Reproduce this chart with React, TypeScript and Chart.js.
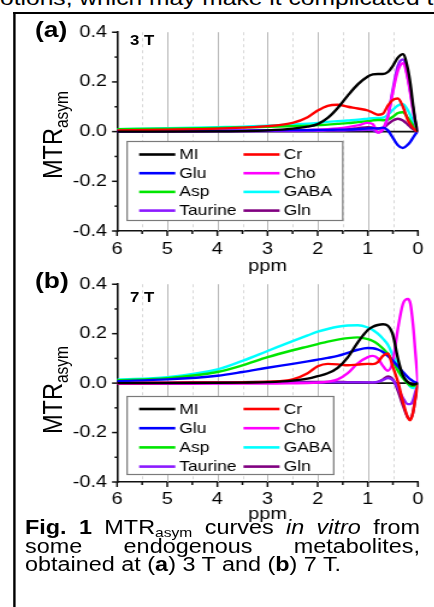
import React, { useEffect, useRef } from 'react';
import { Chart, registerables } from 'chart.js';

Chart.register(...registerables);

const S = 1.2;
const u = (px: number) => px / S;
const FONT = '"Liberation Sans", Arial, Helvetica, sans-serif';

// chemical shift (ppm) sample positions
const PPM = [6, 5, 4, 3.5, 3, 2.5, 2.2, 2.0, 1.8, 1.6, 1.4, 1.2, 1.0, 0.9, 0.8, 0.7, 0.6, 0.5, 0.4, 0.3, 0.2, 0.15, 0.1, 0.05, 0];

const LABELS = ['MI', 'Cr', 'Glu', 'Cho', 'Asp', 'GABA', 'Taurine', 'Gln'];
const COLORS = ['#000000', '#ff0000', '#0000ff', '#ff00ff', '#00e600', '#00ffff', '#8c1aff', '#800080'];

// 3 T
const MI_3T = [0.000, 0.000, 0.001, 0.002, 0.005, 0.012, 0.020, 0.030, 0.055, 0.095, 0.145, 0.190, 0.222, 0.230, 0.232, 0.232, 0.240, 0.265, 0.298, 0.312, 0.250, 0.190, 0.110, 0.040, 0];
const CR_3T = [0.005, 0.008, 0.012, 0.016, 0.022, 0.035, 0.058, 0.085, 0.104, 0.108, 0.100, 0.093, 0.085, 0.076, 0.068, 0.072, 0.105, 0.128, 0.133, 0.100, 0.045, 0.028, 0.015, 0.005, 0];
const GLU_3T = [0.002, 0.003, 0.004, 0.004, 0.005, 0.006, 0.006, 0.007, 0.007, 0.008, 0.008, 0.010, 0.013, 0.014, 0.012, 0.016, 0.005, -0.025, -0.055, -0.066, -0.052, -0.040, -0.025, -0.010, 0];
const CHO_3T = [0.003, 0.003, 0.004, 0.004, 0.005, 0.006, 0.007, 0.008, 0.010, 0.013, 0.018, 0.025, 0.035, 0.030, -0.004, 0.010, 0.060, 0.160, 0.245, 0.275, 0.210, 0.150, 0.090, 0.035, 0];
const ASP_3T = [0.010, 0.012, 0.015, 0.017, 0.019, 0.022, 0.024, 0.026, 0.028, 0.031, 0.034, 0.038, 0.042, 0.045, 0.047, 0.046, 0.048, 0.060, 0.075, 0.078, 0.055, 0.040, 0.025, 0.010, 0];
const GABA_3T = [0.010, 0.014, 0.018, 0.020, 0.024, 0.029, 0.032, 0.035, 0.039, 0.042, 0.045, 0.048, 0.052, 0.054, 0.055, 0.056, 0.068, 0.088, 0.105, 0.110, 0.085, 0.065, 0.040, 0.015, 0];
const TAU_3T = [0.000, 0.000, 0.001, 0.001, 0.002, 0.002, 0.003, 0.003, 0.004, 0.004, 0.005, 0.006, 0.007, 0.006, -0.003, 0.008, 0.060, 0.170, 0.265, 0.290, 0.215, 0.160, 0.095, 0.035, 0];
const GLN_3T = [0.002, 0.002, 0.003, 0.003, 0.004, 0.004, 0.005, 0.005, 0.006, 0.008, 0.010, 0.014, 0.018, 0.016, 0.013, 0.015, 0.030, 0.045, 0.052, 0.045, 0.028, 0.018, 0.010, 0.004, 0];

// 7 T
const MI_7T = [0.000, 0.000, 0.001, 0.002, 0.004, 0.010, 0.018, 0.028, 0.040, 0.062, 0.104, 0.165, 0.215, 0.228, 0.235, 0.238, 0.232, 0.195, 0.100, 0.030, 0.004, -0.002, -0.006, -0.004, 0];
const CR_7T = [0.000, 0.001, 0.002, 0.003, 0.006, 0.015, 0.040, 0.068, 0.078, 0.076, 0.072, 0.075, 0.078, 0.077, 0.085, 0.110, 0.120, 0.065, 0.005, -0.075, -0.140, -0.150, -0.120, -0.060, 0];
const GLU_7T = [0.008, 0.015, 0.030, 0.045, 0.062, 0.078, 0.088, 0.095, 0.102, 0.110, 0.122, 0.135, 0.142, 0.141, 0.136, 0.126, 0.110, 0.090, 0.068, 0.045, 0.024, 0.015, 0.008, 0.003, 0];
const CHO_7T = [-0.003, -0.003, -0.002, -0.002, -0.002, -0.001, 0.000, 0.002, 0.006, 0.015, 0.040, 0.080, 0.105, 0.110, 0.100, 0.070, 0.050, 0.090, 0.220, 0.320, 0.340, 0.320, 0.240, 0.120, 0];
const ASP_7T = [0.012, 0.020, 0.045, 0.072, 0.105, 0.133, 0.148, 0.158, 0.168, 0.176, 0.182, 0.185, 0.178, 0.170, 0.158, 0.140, 0.118, 0.088, 0.050, 0.020, -0.002, -0.010, -0.012, -0.008, 0];
const GABA_7T = [0.014, 0.024, 0.055, 0.090, 0.130, 0.170, 0.193, 0.208, 0.219, 0.228, 0.233, 0.234, 0.225, 0.215, 0.200, 0.180, 0.155, 0.112, 0.070, 0.030, 0.000, -0.015, -0.020, -0.012, 0];
const TAU_7T = [0.000, 0.000, 0.000, 0.001, 0.001, 0.002, 0.002, 0.002, 0.003, 0.003, 0.003, 0.003, 0.003, 0.003, 0.005, 0.012, 0.020, 0.012, -0.020, -0.060, -0.085, -0.085, -0.070, -0.035, 0];
const GLN_7T = [0.003, 0.003, 0.004, 0.004, 0.005, 0.005, 0.005, 0.005, 0.005, 0.005, 0.004, 0.004, 0.003, 0.002, 0.005, 0.015, 0.027, 0.015, -0.030, -0.090, -0.140, -0.145, -0.120, -0.060, 0];

const SERIES_3T = [MI_3T, CR_3T, GLU_3T, CHO_3T, ASP_3T, GABA_3T, TAU_3T, GLN_3T];
const SERIES_7T = [MI_7T, CR_7T, GLU_7T, CHO_7T, ASP_7T, GABA_7T, TAU_7T, GLN_7T];

const decorPlugin = {
  id: 'decor',
  beforeDatasetsDraw(chart: any) {
    const { ctx, chartArea: ca, scales } = chart;
    const x = scales.x, y = scales.y;
    ctx.save();
    for (const t of x.ticks) {
      const v = t.value;
      if (v <= 0 || v >= 6) continue;
      const px = Math.round(x.getPixelForValue(v)) + 0.5;
      ctx.beginPath();
      if (Number.isInteger(v)) {
        ctx.setLineDash([]);
        ctx.strokeStyle = '#b8b8b8';
      } else {
        ctx.setLineDash([3, 3]);
        ctx.strokeStyle = '#d8d8d8';
      }
      ctx.lineWidth = 1;
      ctx.moveTo(px, ca.top);
      ctx.lineTo(px, ca.bottom);
      ctx.stroke();
    }
    ctx.setLineDash([]);
    const py0 = y.getPixelForValue(0);
    ctx.strokeStyle = '#111';
    ctx.lineWidth = 1.6;
    ctx.beginPath();
    ctx.moveTo(ca.left, py0);
    ctx.lineTo(ca.right, py0);
    ctx.stroke();
    ctx.restore();
  },
  afterDatasetsDraw(chart: any, _a: any, opts: any) {
    const { ctx, chartArea: ca, scales } = chart;
    const x = scales.x, y = scales.y;
    ctx.save();
    // tick marks
    ctx.strokeStyle = '#111';
    ctx.lineWidth = 1.5;
    for (const t of x.ticks) {
      const v = t.value;
      const px = x.getPixelForValue(v);
      const len = Number.isInteger(v) ? 5 : 3;
      ctx.beginPath();
      ctx.moveTo(px, ca.bottom);
      ctx.lineTo(px, ca.bottom + len);
      ctx.stroke();
    }
    for (const t of y.ticks) {
      const v = t.value;
      const py = y.getPixelForValue(v);
      const major = Math.round(v * 10) % 2 === 0;
      const len = major ? u(5) : u(2.5);
      ctx.beginPath();
      ctx.moveTo(ca.left, py);
      ctx.lineTo(ca.left - len, py);
      ctx.stroke();
    }
    // legend box
    const L = opts.legend;
    const bx0 = x.getPixelForValue(L.left);
    const bx1 = x.getPixelForValue(L.right);
    const by0 = Math.round(y.getPixelForValue(L.top)) + 0.5;
    const by1 = Math.round(y.getPixelForValue(L.bottom)) + 0.5;
    ctx.fillStyle = '#ffffff';
    ctx.fillRect(bx0, by0, bx1 - bx0, by1 - by0);
    ctx.strokeStyle = '#7a7a7a';
    ctx.lineWidth = 1.2;
    ctx.strokeRect(bx0, by0, bx1 - bx0, by1 - by0);
    ctx.font = `${L.fontSize}px ${FONT}`;
    ctx.textBaseline = 'middle';
    ctx.textAlign = 'left';
    chart.data.datasets.forEach((ds: any, i: number) => {
      const col = i % 2;
      const row = Math.floor(i / 2);
      const lx = bx0 + L.colX[col];
      const ly = by0 + L.rowTop + row * L.rowGap;
      ctx.strokeStyle = ds.borderColor;
      ctx.lineWidth = 2.6;
      ctx.beginPath();
      ctx.moveTo(lx, ly);
      ctx.lineTo(lx + L.lineLen, ly);
      ctx.stroke();
      ctx.fillStyle = '#000';
      ctx.fillText(ds.label, lx + L.lineLen + L.gap, ly + 0.5);
    });
    ctx.restore();
  },
};

type PanelProps = {
  series: number[][];
  top: number;
  height: number;
  padTop: number;
  xAxisH: number;
  xLabelPad: number;
  titlePad: number;
  legend: any;
};

const CANVAS_LEFT = 17; // ref px
const AREA_LEFT = 117;
const AREA_RIGHT = 417;

function Panel(p: PanelProps) {
  const ref = useRef<HTMLCanvasElement>(null);
  useEffect(() => {
    const tickFont = { family: FONT, size: 16.5 };
    const chart = new Chart(ref.current as HTMLCanvasElement, {
      type: 'line',
      data: {
        datasets: LABELS.map((lab, i) => ({
          label: lab,
          data: PPM.map((v, k) => ({ x: v, y: p.series[i][k] })),
          borderColor: COLORS[i],
          backgroundColor: COLORS[i],
          borderWidth: 2.4,
          pointRadius: 0,
          cubicInterpolationMode: 'monotone',
          fill: false,
        })),
      },
      options: {
        animation: false,
        responsive: true,
        maintainAspectRatio: false,
        events: [],
        layout: { padding: { left: 0, right: u(434 - AREA_RIGHT), top: p.padTop, bottom: 0 } },
        plugins: {
          legend: { display: false },
          tooltip: { enabled: false },
          decor: { legend: p.legend },
        } as any,
        scales: {
          x: {
            type: 'linear',
            min: 0,
            max: 6,
            reverse: true,
            afterFit: (s: any) => { s.height = p.xAxisH; },
            grid: { display: false, drawTicks: false },
            border: { display: true, color: '#111', width: 1.6 },
            ticks: {
              stepSize: 0.5,
              autoSkip: false,
              maxRotation: 0,
              padding: p.xLabelPad,
              color: '#000',
              font: tickFont,
              callback: (v: any) => (Number.isInteger(v) ? String(v) : ''),
            },
            title: {
              display: true,
              text: 'ppm',
              color: '#000',
              font: tickFont,
              padding: { top: 0, bottom: p.titlePad },
            },
          },
          y: {
            type: 'linear',
            min: -0.4,
            max: 0.4,
            afterFit: (s: any) => { s.width = u(AREA_LEFT - CANVAS_LEFT); },
            grid: { display: false, drawTicks: false },
            border: { display: true, color: '#111', width: 1.6 },
            ticks: {
              stepSize: 0.1,
              autoSkip: false,
              padding: u(10),
              color: '#000',
              font: tickFont,
              callback: (v: any) => {
                const r = Math.round(Number(v) * 10);
                if (r % 2 !== 0) return '';
                return (r / 10).toFixed(1);
              },
            },
          },
        },
      } as any,
      plugins: [decorPlugin as any],
    });
    return () => chart.destroy();
  }, []);
  return (
    <div style={{ position: 'absolute', left: u(CANVAS_LEFT), top: p.top, width: u(434 - CANVAS_LEFT), height: p.height }}>
      <canvas ref={ref} />
    </div>
  );
}

const abs = (left: number, top: number, extra: any = {}) => ({ position: 'absolute' as const, left: u(left), top, whiteSpace: 'nowrap' as const, ...extra });

function YTitle({ cx, cy }: { cx: number; cy: number }) {
  return (
    <div style={{ position: 'absolute', left: u(cx), top: cy, transform: 'translate(-50%, -50%) rotate(-90deg)', whiteSpace: 'nowrap', fontSize: 23.5, lineHeight: '25px' }}>
      MTR<span style={{ fontSize: 15.5, verticalAlign: -5 }}>asym</span>
    </div>
  );
}

export default function App() {
  const legendA = { left: 5.8, right: 1.5, top: -0.036, bottom: -0.356, colX: [u(12), u(116)], lineLen: u(36), gap: u(4), rowTop: 13, rowGap: 18.7, fontSize: 14.5 };
  const legendB = { left: 5.8, right: 1.68, top: -0.054, bottom: -0.368, colX: [u(12), u(116)], lineLen: u(36), gap: u(4), rowTop: 12.5, rowGap: 19.2, fontSize: 14.5 };
  const cap = { fontSize: 19.5, lineHeight: '19.5px' };
  return (
    <div style={{ position: 'absolute', left: 0, top: 0, width: u(434), height: 607, overflow: 'hidden', background: '#fff', transform: `scaleX(${S})`, transformOrigin: '0 0', fontFamily: FONT, color: '#000' }}>
      <div style={abs(-20.5, -12.5, { fontSize: 20.5, lineHeight: '20.5px' })}>motions, which may make it complicated to</div>
      <div style={{ position: 'absolute', left: u(13.5), top: 12, width: u(421), height: 2, background: '#000' }} />
      <div style={{ position: 'absolute', left: u(13.5), top: 12, width: u(2.6), height: 600, background: '#000' }} />

      <Panel series={SERIES_3T} top={14} height={264} padTop={17} xAxisH={47} xLabelPad={9} titlePad={2} legend={legendA} />
      <Panel series={SERIES_7T} top={266} height={261} padTop={17} xAxisH={45} xLabelPad={7.5} titlePad={2.5} legend={legendB} />

      <div style={abs(35, 19, { fontSize: 22, lineHeight: '22px', fontWeight: 'bold' })}>(a)</div>
      <div style={abs(35, 270, { fontSize: 22, lineHeight: '22px', fontWeight: 'bold' })}>(b)</div>
      <div style={abs(130, 33, { fontSize: 14, lineHeight: '14px', fontWeight: 'bold' })}>3 T</div>
      <div style={abs(130, 290, { fontSize: 14, lineHeight: '14px', fontWeight: 'bold' })}>7 T</div>
      <YTitle cx={58} cy={135} />
      <YTitle cx={58} cy={390} />

      <div style={{ ...abs(25, 517.5, cap), width: u(395), textAlign: 'justify', textAlignLast: 'justify' as any }}>
        <b>Fig. 1</b> MTR<span style={{ fontSize: 13, verticalAlign: -3 }}>asym</span> curves <i>in vitro</i> from
      </div>
      <div style={{ ...abs(25, 536.5, cap), width: u(395), textAlign: 'justify', textAlignLast: 'justify' as any }}>
        some endogenous metabolites,
      </div>
      <div style={{ ...abs(25, 554.5, cap) }}>
        obtained at (<b>a</b>) 3 T and (<b>b</b>) 7 T.
      </div>
    </div>
  );
}
